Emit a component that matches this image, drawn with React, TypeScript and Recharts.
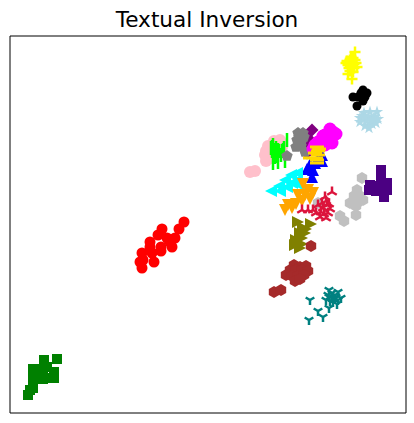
import { ScatterChart, Scatter, XAxis, YAxis, ReferenceArea } from 'recharts';

type Pt = [number, number];

const yellowPts: Pt[] = [[345,361],[336,350],[340,353],[343,355],[346,350],[341,347],[344,345],[339,345],[347,346],[342,351],[338,348],[342,334],[338,339],[343,341],[340,342],[340,350],[344,349],[337,352],[342,346],[345,353],[341,356]];
const blackPts: Pt[] = [[353,323],[355,316],[348,316],[343,316],[347,307],[351,320],[357,320],[353,312]];
const lightbluePts: Pt[] = [[350,295],[354,300],[360,301],[367,301],[368,294],[362,289],[355,287],[350,291],[358,295],[364,296],[359,285],[352,297],[366,290],[356,292],[361,292],[363,293],[355,296]];
const pinkPts: Pt[] = [[270,273],[258,267],[256,262],[255,258],[256,252],[258,254],[263,263],[265,270],[267,264],[272,266],[240,241],[245,242],[258,260],[262,258],[264,272],[259,255]];
const limePts: Pt[] = [[261,265],[264,263],[263,250],[268,263],[268,251],[273,263],[275,252],[277,273],[262,266],[266,265],[271,258],[265,256],[262,262],[269,262],[274,265],[267,257],[272,262],[263,268]];
const purplePts: Pt[] = [[302,283],[298,275],[296,266],[297,260],[300,270]];
const grayPts: Pt[] = [[288,280],[293,280],[287,273],[292,273],[286,266],[291,267],[289,276],[295,261],[277,257],[290,270],[294,276]];
const magentaPts: Pt[] = [[320,284],[322,276],[308,271],[315,278],[305,268],[317,270],[312,274],[323,281],[303,264],[310,270],[318,272],[313,277],[315,268],[322,270],[326,279]];
const bluePts: Pt[] = [[312,258],[305,250],[297,244],[303,243],[302,236],[307,253],[300,249],[312,252]];
const goldPts: Pt[] = [[307,266],[308,262],[308,258],[306,255],[300,255],[307,250],[309,264],[305,260],[307,253]];
const cyanPts: Pt[] = [[261,222],[269,227],[275,233],[281,238],[287,240],[286,232],[277,226],[282,230],[289,228],[270,222]];
const silverPts: Pt[] = [[352,235],[347,223],[344,217],[350,217],[340,210],[347,210],[353,213],[346,207],[330,197],[334,192],[346,198],[308,210]];
const orangePts: Pt[] = [[293,229],[303,220],[288,218],[295,218],[292,212],[286,209],[278,208],[275,203],[282,205],[298,223],[300,214]];
const crimsonPts: Pt[] = [[322,221],[315,216],[317,208],[318,200],[310,196],[303,203],[292,203],[298,203],[313,205],[308,208],[320,204],[314,199],[316,212],[311,201],[306,200],[319,209],[312,210],[316,195]];
const indigoPts: Pt[] = [[371,243],[371,236],[360,228],[359,223],[366,227],[366,222],[372,227],[377,230],[377,223],[374,216],[374,221]];
const olivePts: Pt[] = [[288,191],[301,189],[293,185],[295,180],[292,175],[292,169],[286,173],[290,165],[296,184],[290,180],[285,168]];
const brownPts: Pt[] = [[301,167],[284,148],[290,146],[296,147],[280,143],[286,143],[292,143],[298,142],[276,138],[282,137],[288,137],[294,138],[285,132],[290,134],[264,121],[271,123]];
const tealPts: Pt[] = [[300,113],[299,93],[308,102],[313,96],[319,105],[319,123],[328,121],[322,115],[327,109],[316,113],[323,111],[331,115],[319,116],[325,118],[320,112],[324,114],[326,116],[318,118],[322,120],[328,113]];
const redPts: Pt[] = [[174,191],[169,184],[152,184],[148,178],[165,175],[160,171],[162,166],[140,171],[151,166],[151,162],[140,166],[142,160],[132,160],[130,151],[144,151],[132,145],[133,153],[157,175]];
const greenPts: Pt[] = [[47,54],[34,53],[37,46],[23,44],[23,34],[28,44],[33,40],[33,34],[28,34],[44,41],[44,35],[38,35],[23,25],[20,23],[18,18]];

const poly = (cx: number, cy: number, r: number, n: number, start: number) =>
  Array.from({ length: n }, (_, i) => {
    const a = start + (i * 2 * Math.PI) / n;
    return `${cx + r * Math.cos(a)},${cy + r * Math.sin(a)}`;
  }).join(' ');

const star = (cx: number, cy: number, r: number) =>
  Array.from({ length: 10 }, (_, i) => {
    const a = -Math.PI / 2 + (i * Math.PI) / 5;
    const rr = i % 2 ? r * 0.38 : r;
    return `${cx + rr * Math.cos(a)},${cy + rr * Math.sin(a)}`;
  }).join(' ');

// matplotlib style markers
function marker(kind: string, color: string, r: number) {
  return (props: any) => {
    const { cx, cy } = props;
    const arms = (angles: number[]) => (
      <g stroke={color} strokeWidth={2.5}>
        {angles.map(a => (
          <line key={a} x1={cx} y1={cy} x2={cx + r * Math.cos(a)} y2={cy + r * Math.sin(a)} />
        ))}
      </g>
    );
    switch (kind) {
      case 'o': return <circle cx={cx} cy={cy} r={r} fill={color} />;
      case 's': return <rect x={cx - r} y={cy - r} width={2 * r} height={2 * r} fill={color} />;
      case 'D': return <polygon points={poly(cx, cy, r, 4, 0)} fill={color} />;
      case 'h': return <polygon points={poly(cx, cy, r, 6, -Math.PI / 2)} fill={color} />;
      case 'p': return <polygon points={poly(cx, cy, r, 5, -Math.PI / 2)} fill={color} />;
      case '*': return <polygon points={star(cx, cy, r)} fill={color} />;
      case '^': return <polygon points={`${cx},${cy - r} ${cx - r},${cy + r} ${cx + r},${cy + r}`} fill={color} />;
      case 'v': return <polygon points={`${cx},${cy + r} ${cx - r},${cy - r} ${cx + r},${cy - r}`} fill={color} />;
      case '<': return <polygon points={`${cx - r},${cy} ${cx + r},${cy - r} ${cx + r},${cy + r}`} fill={color} />;
      case '>': return <polygon points={`${cx + r},${cy} ${cx - r},${cy - r} ${cx - r},${cy + r}`} fill={color} />;
      case '+': return <path d={`M${cx - r} ${cy}H${cx + r}M${cx} ${cy - r}V${cy + r}`} stroke={color} strokeWidth={2.5} />;
      case '|': return <line x1={cx} y1={cy - r} x2={cx} y2={cy + r} stroke={color} strokeWidth={2.5} />;
      case '_': return <line x1={cx - r} y1={cy} x2={cx + r} y2={cy} stroke={color} strokeWidth={3} />;
      case '2': return arms([-Math.PI / 2, Math.PI / 6, (5 * Math.PI) / 6]);
      case '1': return arms([Math.PI / 2, -Math.PI / 6, (-5 * Math.PI) / 6]);
      default: return <g />;
    }
  };
}

const series: [Pt[], string, string, number][] = [
  [pinkPts, 'o', '#ffc0cb', 6],
  [limePts, '|', '#00ff00', 7],
  [purplePts, 'D', '#800080', 6.5],
  [grayPts, 'p', '#808080', 6],
  [magentaPts, 'o', '#ff00ff', 6.5],
  [bluePts, '^', '#0000ff', 6],
  [goldPts, '_', '#ffd700', 7],
  [cyanPts, '<', '#00ffff', 6],
  [silverPts, 'h', '#c0c0c0', 6],
  [orangePts, 'v', '#ffa500', 6],
  [crimsonPts, '2', '#dc143c', 5.5],
  [olivePts, '>', '#808000', 6],
  [brownPts, 'h', '#a52a2a', 6],
  [tealPts, '1', '#008080', 5],
  [indigoPts, 's', '#4b0082', 5],
  [lightbluePts, '*', '#add8e6', 6.5],
  [yellowPts, '+', '#ffff00', 5.5],
  [blackPts, 'o', '#000000', 4.5],
  [redPts, 'o', '#ff0000', 5.5],
  [greenPts, 's', '#008000', 5],
];

export default function App() {
  return (
    <div style={{ position: 'absolute', left: 0, top: 0, width: 414, height: 423, background: '#fff' }}>
      <div style={{ position: 'absolute', left: 0, top: 7, width: 414, textAlign: 'center', fontFamily: 'DejaVu Sans', fontSize: 21.6, lineHeight: '26px', color: '#000' }}>
        Textual Inversion
      </div>
      <ScatterChart width={414} height={423} margin={{ top: 36, right: 8, bottom: 10, left: 10 }}>
        <XAxis type="number" dataKey="x" domain={[0, 396]} hide />
        <YAxis type="number" dataKey="y" domain={[0, 377]} hide />
        <ReferenceArea x1={0} x2={396} y1={0} y2={377} fill="none" stroke="#000" strokeWidth={1} fillOpacity={0} />
        {series.map(([pts, kind, color, r]) => (
          <Scatter
            key={color}
            data={pts.map(([x, y]) => ({ x, y }))}
            fill={color}
            shape={marker(kind, color, r)}
            isAnimationActive={false}
          />
        ))}
      </ScatterChart>
    </div>
  );
}
